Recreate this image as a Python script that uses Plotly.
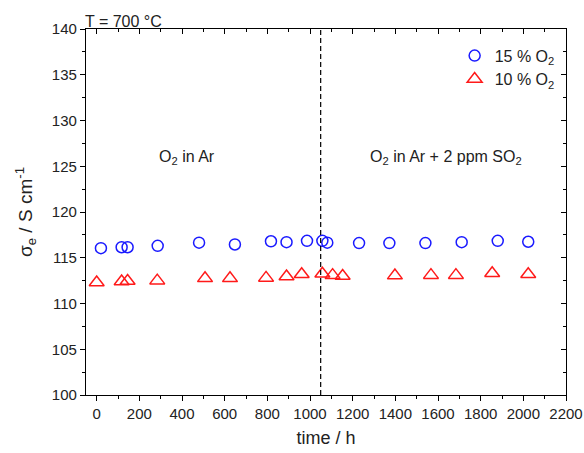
import plotly.graph_objects as go

# Data
time_15 = [20, 117, 145, 286, 480, 648, 817, 890, 986, 1058, 1081, 1230, 1372, 1541, 1711, 1880, 2023]
sigma_15 = [116.05, 116.15, 116.15, 116.3, 116.65, 116.45, 116.8, 116.7, 116.85, 116.85, 116.65,
            116.6, 116.6, 116.6, 116.7, 116.85, 116.75]
time_10 = [0, 117, 145, 284, 508, 625, 794, 890, 961, 1058, 1106, 1153, 1398, 1567, 1684, 1854, 2023]
sigma_10 = [112.3, 112.4, 112.45, 112.5, 112.75, 112.75, 112.8, 112.95, 113.2, 113.25, 113.1,
            113.0, 113.05, 113.1, 113.1, 113.3, 113.2]
switch_time = 1050
x_ticks = list(range(0, 2201, 200))
y_ticks = list(range(100, 141, 5))

FONT = "Liberation Sans, Arial, sans-serif"
TXT = "#222"

fig = go.Figure()
fig.add_trace(go.Scatter(
    x=time_15, y=sigma_15, mode="markers", name="15 % O<sub>2</sub>", legend="legend",
    marker=dict(symbol="circle-open", size=11, color="#1a1aff", line=dict(width=1.5, color="#1a1aff")),
))
fig.add_trace(go.Scatter(
    x=time_10, y=sigma_10, mode="markers", name="10 % O<sub>2</sub>", legend="legend2",
    marker=dict(symbol="triangle-up-open", size=13, color="#ff1a1a", line=dict(width=1.5, color="#ff1a1a")),
))

fig.add_shape(type="line", x0=switch_time, x1=switch_time, y0=0, y1=1, xref="x", yref="paper",
              line=dict(color="black", width=1.2, dash="5px,3px"))

fig.add_annotation(x=0.148, y=0.650, xref="paper", yref="paper", text="O<sub>2</sub> in Ar",
                   showarrow=False, xanchor="left", yanchor="middle",
                   font=dict(family=FONT, size=16, color=TXT))
fig.add_annotation(x=0.5875, y=0.650, xref="paper", yref="paper", text="O<sub>2</sub> in Ar + 2 ppm SO<sub>2</sub>",
                   showarrow=False, xanchor="left", yanchor="middle",
                   font=dict(family=FONT, size=16, color=TXT))
fig.add_annotation(x=0, y=1.0, xref="paper", yref="paper", text="T = 700 °C",
                   showarrow=False, xanchor="left", yanchor="bottom", yshift=-3, xshift=-3,
                   font=dict(family=FONT, size=16, color=TXT))

axis_common = dict(showline=True, linecolor="black", linewidth=1.2, showgrid=False, zeroline=False,
                   tickcolor="black", ticklen=5, tickwidth=1.2, automargin=False,
                   tickfont=dict(family=FONT, size=15, color=TXT))

legend_common = dict(xanchor="left", yanchor="middle", bgcolor="rgba(0,0,0,0)",
                     font=dict(family=FONT, size=16, color=TXT), itemwidth=30)

fig.update_layout(
    width=584, height=453,
    margin=dict(l=86, r=18, t=29, b=58),
    paper_bgcolor="white", plot_bgcolor="white",
    font=dict(family=FONT, color=TXT),
    showlegend=True,
    legend=dict(x=0.768, y=0.927, **legend_common),
    legend2=dict(x=0.768, y=0.863, **legend_common),
    xaxis=dict(range=[-50, 2200], tickvals=x_ticks, ticks="outside",
               minor=dict(dtick=100, tick0=0, ticks="outside", ticklen=3, tickcolor="black"),
               title=dict(text="time / h", font=dict(family=FONT, size=18, color=TXT), standoff=10),
               **axis_common),
    yaxis=dict(range=[100, 140], tickvals=y_ticks, ticks="outside",
               minor=dict(dtick=2.5, tick0=100, ticks="outside", ticklen=3, tickcolor="black"),
               title=dict(text="σ<sub>e</sub> / S cm<sup>-1</sup>", font=dict(family=FONT, size=19, color=TXT), standoff=14),
               **axis_common),
    xaxis2=dict(range=[-50, 2200], overlaying="x", side="top", tickvals=x_ticks, ticks="inside",
                showticklabels=False,
                minor=dict(dtick=100, tick0=0, ticks="inside", ticklen=3, tickcolor="black"),
                **axis_common),
    yaxis2=dict(range=[100, 140], overlaying="y", side="right", tickvals=y_ticks, ticks="inside",
                showticklabels=False,
                minor=dict(dtick=2.5, tick0=100, ticks="inside", ticklen=3, tickcolor="black"),
                **axis_common),
)
# invisible trace to activate secondary axes
fig.add_trace(go.Scatter(x=[None], y=[None], xaxis="x2", yaxis="y2", showlegend=False, hoverinfo="skip"))

fig.write_html("out.html")
